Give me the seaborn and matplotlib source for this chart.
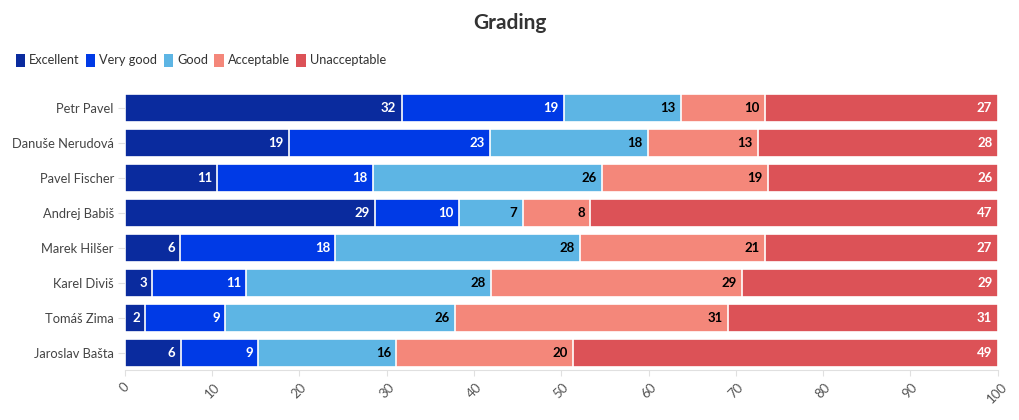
import numpy as np
import pandas as pd
import seaborn as sns
import matplotlib.pyplot as plt
from matplotlib.patches import Patch

# Dados (percentagens)
candidatos = ["Petr Pavel", "Danuše Nerudová", "Pavel Fischer", "Andrej Babiš",
              "Marek Hilšer", "Karel Diviš", "Tomáš Zima", "Jaroslav Bašta"]
categorias = ["Excellent", "Very good", "Good", "Acceptable", "Unacceptable"]

excellent = [31.7, 18.8, 10.6, 28.7, 6.3, 3.1, 2.3, 6.4]
very_good = [18.6, 23.0, 17.8, 9.6, 17.8, 10.8, 9.2, 8.9]
good = [13.4, 18.1, 26.3, 7.3, 28.1, 28.0, 26.3, 15.8]
acceptable = [9.6, 12.6, 19.0, 7.7, 21.1, 28.8, 31.3, 20.3]
unacceptable = [26.7, 27.5, 26.3, 46.7, 26.7, 29.3, 30.9, 48.6]

cores = ["#0a2b9e", "#003ae6", "#5db5e4", "#f4877a", "#dc5257"]
cor_texto = ["white", "white", "black", "black", "white"]

plt.rcParams['font.family'] = ['Lato', 'DejaVu Sans']

df = pd.DataFrame({"candidato": candidatos, "Excellent": excellent, "Very good": very_good,
                   "Good": good, "Acceptable": acceptable, "Unacceptable": unacceptable})
cum = df[categorias].cumsum(axis=1)

fig = plt.figure(figsize=(10.2, 4.2), dpi=100)
ax = fig.add_axes([0.1225, 0.118, 0.8555, 0.667])

# barras empilhadas: desenha do total para o primeiro
for i in range(len(categorias) - 1, -1, -1):
    sns.barplot(x=cum[categorias[i]], y=df["candidato"], color=cores[i], orient="h",
                width=0.8, edgecolor="white", linewidth=1.2, saturation=1, ax=ax)

# rótulos dentro das barras
for i, cat in enumerate(categorias):
    for j in range(len(candidatos)):
        v = df[cat][j]
        ax.text(cum[cat][j] - 0.6, j, f"{round(v)}", ha="right", va="center",
                color=cor_texto[i], fontsize=9.5, fontweight="bold")

ax.set_xlim(0, 100)
ax.set_ylim(7.5, -0.5)
ax.set_xticks(np.arange(0, 101, 10))
ax.set_xlabel("")
ax.set_ylabel("")
for s in ["top", "right", "left"]:
    ax.spines[s].set_visible(False)
ax.spines["bottom"].set_color("#e0e0e0")
ax.tick_params(axis="x", colors="#e0e0e0", labelcolor="#555555", labelsize=9.5,
               labelrotation=45, length=4)
ax.tick_params(axis="y", colors="#e0e0e0", labelcolor="#444444", labelsize=9.3,
               length=5, pad=3)
for lbl in ax.get_xticklabels():
    lbl.set_ha("center")

fig.text(0.5, 0.945, "Grading", ha="center", va="center", fontsize=15,
         fontweight="bold", color="#333333")

handles = [Patch(facecolor=c, edgecolor="none") for c in cores]
fig.legend(handles, categorias, loc="center left", bbox_to_anchor=(0.004, 0.857),
           ncol=5, frameon=False, fontsize=9.2, handlelength=0.75, handleheight=1.2,
           handletextpad=0.3, columnspacing=0.5, labelcolor="#333333")

plt.savefig("out.png", dpi=100)
